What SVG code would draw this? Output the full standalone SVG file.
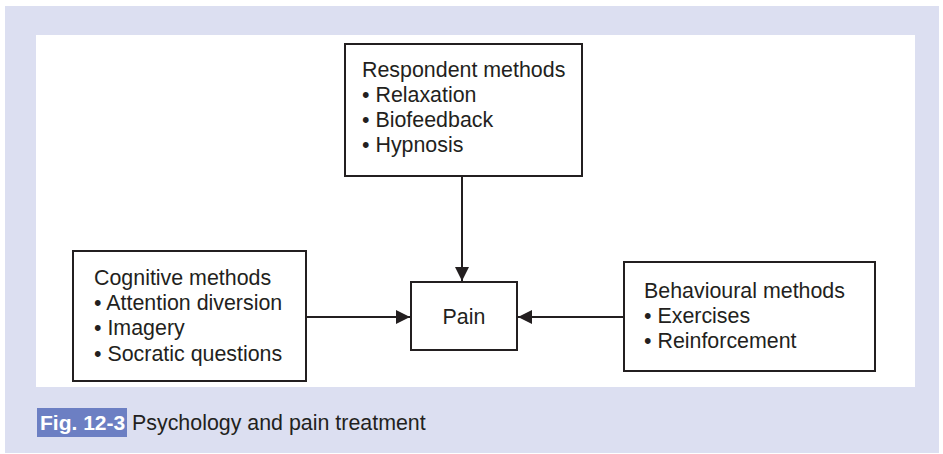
<svg xmlns="http://www.w3.org/2000/svg" width="943" height="454" viewBox="0 0 943 454">
<defs>
<style>
.box{fill:#fff;stroke:#231f20;stroke-width:2}
.t{font-family:"Liberation Sans",Arial,sans-serif;font-size:21.4px;fill:#231f20}
.conn{stroke:#231f20;stroke-width:2;fill:none}
</style>
<marker id="ah" viewBox="0 0 10 10" refX="10" refY="5" markerWidth="14" markerHeight="14" markerUnits="userSpaceOnUse" orient="auto">
<path d="M0,0 L10,5 L0,10 z" fill="#231f20"/>
</marker>
</defs>
<rect x="5" y="6" width="934" height="447" fill="#dcdff1"/>
<rect x="36" y="35" width="879" height="352" fill="#fff"/>
<g id="connectors">
<line class="conn" x1="462" y1="176" x2="462" y2="281" marker-end="url(#ah)"/>
<line class="conn" x1="306" y1="317" x2="410" y2="317" marker-end="url(#ah)"/>
<line class="conn" x1="624" y1="317" x2="518" y2="317" marker-end="url(#ah)"/>
</g>
<g id="respondent">
<rect class="box" x="345" y="44" width="237" height="132"/>
<text class="t" x="362" y="77">Respondent methods</text>
<text class="t" x="362" y="102">• Relaxation</text>
<text class="t" x="362" y="127">• Biofeedback</text>
<text class="t" x="362" y="152">• Hypnosis</text>
</g>
<g id="cognitive">
<rect class="box" x="73" y="251" width="233" height="130"/>
<text class="t" x="94" y="285">Cognitive methods</text>
<text class="t" x="94" y="310">• Attention diversion</text>
<text class="t" x="94" y="335">• Imagery</text>
<text class="t" x="94" y="361">• Socratic questions</text>
</g>
<g id="pain">
<rect class="box" x="411" y="282" width="106" height="68"/>
<text class="t" x="464" y="324" text-anchor="middle">Pain</text>
</g>
<g id="behavioural">
<rect class="box" x="624" y="262" width="251" height="109"/>
<text class="t" x="644" y="298">Behavioural methods</text>
<text class="t" x="644" y="323">• Exercises</text>
<text class="t" x="644" y="348">• Reinforcement</text>
</g>
<g id="caption">
<rect x="37" y="408" width="90" height="29" fill="#6c7fc3"/>
<text x="40" y="430" font-family="Liberation Sans,Arial,sans-serif" font-size="21px" font-weight="bold" fill="#fff">Fig. 12-3</text>
<text x="132" y="430" class="t" style="font-size:21.4px">Psychology and pain treatment</text>
</g>
</svg>
